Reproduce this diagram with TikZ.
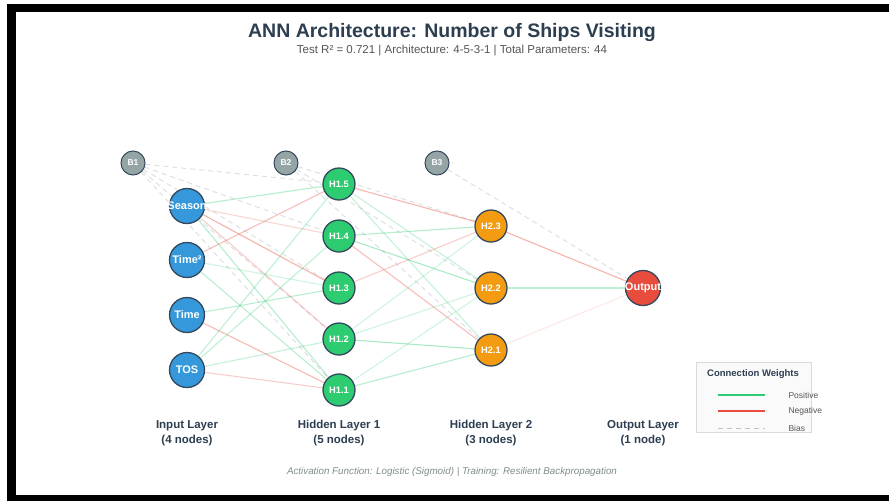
\documentclass[tikz,border=0pt]{standalone}
\usepackage{fontspec}
\setmainfont{Liberation Sans}
\usetikzlibrary{backgrounds}
\definecolor{inblue}{HTML}{3498DB}
\definecolor{hidgreen}{HTML}{2ECC71}
\definecolor{hidorange}{HTML}{F39C12}
\definecolor{outred}{HTML}{E74C3C}
\definecolor{biasgray}{HTML}{95A5A6}
\definecolor{rim}{HTML}{34495E}
\definecolor{darktext}{HTML}{2C3E50}
\definecolor{softtext}{HTML}{555555}
\definecolor{foottext}{HTML}{7F8C8D}
\definecolor{dashgray}{HTML}{BDC3C7}
\tikzset{
    neuron/.style = {
        circle,
        draw = rim,
        line width = 1.3pt,
        inner sep = 0pt,
        text = white,
        font = \bfseries,
        },
    input/.style = {
        neuron,
        fill = inblue,
        minimum size = 35pt,
        font = \fontsize{11}{13}\selectfont\bfseries,
        },
    hidden one/.style = {
        neuron,
        fill = hidgreen,
        minimum size = 32pt,
        font = \fontsize{9.3}{11}\selectfont\bfseries,
        },
    hidden two/.style = {
        neuron,
        fill = hidorange,
        minimum size = 32pt,
        font = \fontsize{9.3}{11}\selectfont\bfseries,
        },
    output/.style = {
        neuron,
        fill = outred,
        minimum size = 35pt,
        font = \fontsize{11}{13}\selectfont\bfseries,
        },
    bias/.style = {
        neuron,
        fill = biasgray,
        line width = 1pt,
        minimum size = 24pt,
        font = \fontsize{8.5}{10}\selectfont\bfseries,
        },
    posw/.style = {
        draw = hidgreen,
        line width = 1.1pt,
        draw opacity = #1,
        },
    posw/.default = 0.3,
    negw/.style = {
        draw = outred,
        line width = 1.1pt,
        draw opacity = #1,
        },
    negw/.default = 0.3,
    biasline/.style = {
        draw = dashgray,
        line width = 1pt,
        dash pattern = on 5pt off 4pt,
        draw opacity = 0.5,
        },
    layer label/.style = {
        align = center,
        text = darktext,
        font = \fontsize{11.5}{15}\selectfont\bfseries,
        },
    legend text/.style = {
        anchor = west,
        text = softtext,
        font = \fontsize{8.5}{10}\selectfont,
        },
}
\newcommand{\zw}[1]{\makebox[0pt]{#1}}

\begin{document}
\begin{tikzpicture}[x=1pt, y=-1pt]
    \useasboundingbox (0,0) rectangle (889,501);

    % title
    \node[text=darktext, font=\fontsize{19.5}{22}\selectfont\bfseries] (title) at (452,32) {ANN Architecture: Number of Ships Visiting};
    \node[text=softtext, font=\fontsize{11.5}{13}\selectfont] (subtitle) at (452,51) {Test R² = 0.721 | Architecture: 4-5-3-1 | Total Parameters: 44};

    % bias nodes
    \node[bias] (b1) at (133,163) {B1};
    \node[bias] (b2) at (286,163) {B2};
    \node[bias] (b3) at (437,163) {B3};

    % input layer
    \node[input] (season) at (187,206) {\zw{Season}};
    \node[input] (time2) at (187,260) {\zw{Time²}};
    \node[input] (time) at (187,315) {\zw{Time}};
    \node[input] (tos) at (187,370) {\zw{TOS}};

    % hidden layer 1
    \node[hidden one] (h15) at (339,184) {H1.5};
    \node[hidden one] (h14) at (339,236) {H1.4};
    \node[hidden one] (h13) at (339,288) {H1.3};
    \node[hidden one] (h12) at (339,339) {H1.2};
    \node[hidden one] (h11) at (339,390) {H1.1};

    % hidden layer 2
    \node[hidden two] (h23) at (491,226) {H2.3};
    \node[hidden two] (h22) at (491,288) {H2.2};
    \node[hidden two] (h21) at (491,350) {H2.1};

    % output layer
    \node[output] (out) at (643,288) {\zw{Output}};

    \begin{scope}[on background layer]
        % frame
        \fill[black] (7,4) rectangle (889,501);
        \fill[white] (16,12) rectangle (889,495);

        % bias connections
        \foreach \h in {h15,h14,h13,h12,h11}
            \path (b1) edge[biasline] (\h);
        \foreach \h in {h23,h22,h21}
            \path (b2) edge[biasline] (\h);
        \path (b3) edge[biasline] (out);

        % input -> hidden 1
        \path (season) edge[posw=0.35] (h15);
        \path (season) edge[negw=0.22] (h14);
        \path (season) edge[negw=0.42] (h13);
        \path (season) edge[negw=0.27] (h12);
        \path (season) edge[posw=0.35] (h11);
        \path (time2) edge[negw=0.38] (h15);
        \path (time2) edge[posw=0.22] (h13);
        \path (time2) edge[posw=0.33] (h11);
        \path (time) edge[posw=0.33] (h13);
        \path (time) edge[negw=0.38] (h11);
        \path (tos) edge[posw=0.3] (h15);
        \path (tos) edge[posw=0.3] (h14);
        \path (tos) edge[posw=0.27] (h12);
        \path (tos) edge[negw=0.27] (h11);

        % hidden 1 -> hidden 2
        \path (h15) edge[negw=0.4] (h23);
        \path (h15) edge[posw=0.27] (h22);
        \path (h15) edge[posw=0.27] (h21);
        \path (h14) edge[posw=0.35] (h23);
        \path (h14) edge[posw=0.4] (h22);
        \path (h14) edge[negw=0.35] (h21);
        \path (h13) edge[negw=0.27] (h23);
        \path (h12) edge[posw=0.22] (h23);
        \path (h12) edge[posw=0.22] (h22);
        \path (h12) edge[posw=0.4] (h21);
        \path (h11) edge[posw=0.22] (h22);
        \path (h11) edge[posw=0.35] (h21);

        % hidden 2 -> output
        \path (h23) edge[negw=0.42] (out);
        \path (h22) edge[posw=0.3] (out);
        \path (h21) edge[negw=0.12] (out);
    \end{scope}

    % layer labels
    \node[layer label] (lin) at (187,433) {Input Layer\\(4 nodes)};
    \node[layer label] (lh1) at (339,433) {Hidden Layer 1\\(5 nodes)};
    \node[layer label] (lh2) at (491,433) {Hidden Layer 2\\(3 nodes)};
    \node[layer label] (lout) at (643,433) {Output Layer\\(1 node)};

    % legend
    \node[draw=dashgray!60, fill=gray!4, minimum width=115pt, minimum height=70pt] (legend) at (753.5,397) {};
    \node[text=darktext, font=\fontsize{9.5}{11}\selectfont\bfseries] (legtitle) at (753,374) {Connection Weights};
    \coordinate (lp1) at (718,395);
    \coordinate (lp2) at (765,395);
    \coordinate (ln1) at (718,411);
    \coordinate (ln2) at (765,411);
    \coordinate (lb1) at (718,428);
    \coordinate (lb2) at (765,428);
    \draw[hidgreen, line width=1.3pt] (lp1) -- (lp2);
    \draw[outred, line width=1.3pt] (ln1) -- (ln2);
    \draw[biasline, draw opacity=1] (lb1) -- (lb2);
    \node[legend text] (legpos) at (785,395) {Positive};
    \node[legend text] (legneg) at (785,411) {Negative};
    \node[legend text] (legbias) at (785,428) {Bias};

    % footer
    \node[text=foottext, font=\fontsize{9.8}{12}\selectfont\itshape] (footer) at (452,472) {Activation Function: Logistic (Sigmoid) | Training: Resilient Backpropagation};
\end{tikzpicture}
\end{document}
